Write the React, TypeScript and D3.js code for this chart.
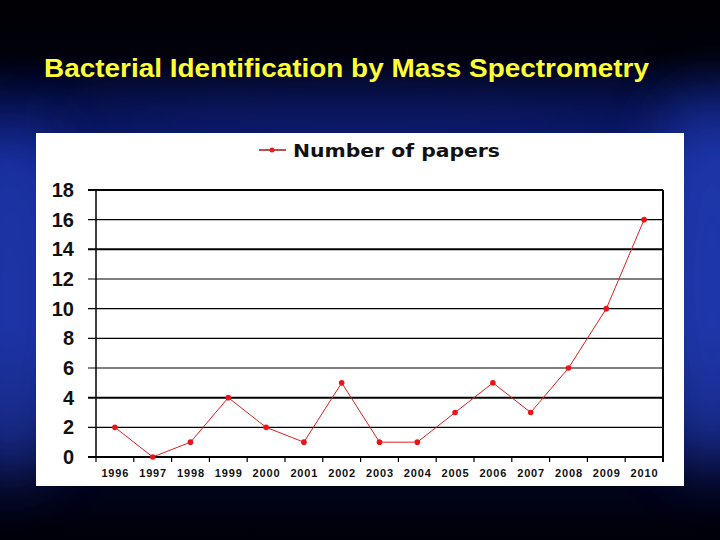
import React from "react";
import * as d3 from "d3";

const years = ["1996","1997","1998","1999","2000","2001","2002","2003","2004","2005","2006","2007","2008","2009","2010"];
const papers = [2, 0, 1, 4, 2, 1, 5, 1, 1, 3, 5, 3, 6, 10, 16];
const yTicks = [0, 2, 4, 6, 8, 10, 12, 14, 16, 18];
const thickTicks = [0, 4, 14, 18];
const title = "Bacterial Identification by Mass Spectrometry";
const seriesName = "Number of papers";

export default function App() {
  const W = 720, H = 540;
  const left = 96, right = 663, top = 190, bottom = 457;
  const x = d3.scaleBand<string>().domain(years).range([left, right]);
  const y = d3.scaleLinear().domain([0, 18]).range([bottom, top]);
  const line = d3.line<number>()
    .x((_, i) => (x(years[i]) as number) + x.bandwidth() / 2)
    .y((d) => y(d));
  const font = "Liberation Sans, Arial, sans-serif";
  return (
    <div style={{ position: "absolute", left: 0, top: 0, width: W, height: H }}>
      <svg width={W} height={H} style={{ display: "block" }}>
        <defs>
          <linearGradient id="bg" x1="0" y1="0" x2="0" y2="1">
            <stop offset="0" stopColor="#000004" />
            <stop offset="0.1" stopColor="#00010a" />
            <stop offset="0.2" stopColor="#050e48" />
            <stop offset="0.3" stopColor="#0b1a72" />
            <stop offset="0.6" stopColor="#0b1a70" />
            <stop offset="0.8" stopColor="#040a3a" />
            <stop offset="0.9" stopColor="#01031a" />
            <stop offset="1" stopColor="#000008" />
          </linearGradient>
          <filter id="blur" x="-50%" y="-50%" width="200%" height="200%">
            <feGaussianBlur stdDeviation="30" />
          </filter>
        </defs>
        <rect x={0} y={0} width={W} height={H} fill="url(#bg)" />
        <ellipse cx={10} cy={300} rx={70} ry={180} fill="#2a48d0" opacity={0.55} filter="url(#blur)" />
        <ellipse cx={712} cy={280} rx={70} ry={190} fill="#2a48d0" opacity={0.6} filter="url(#blur)" />
        <ellipse cx={360} cy={120} rx={320} ry={25} fill="#1a30a0" opacity={0.35} filter="url(#blur)" />
        <text x={44} y={77} fill="#ffff33" fontFamily={font} fontWeight="bold" fontSize={25}
          textLength={605} lengthAdjust="spacingAndGlyphs">{title}</text>
        <rect x={36} y={133} width={648} height={353} fill="#ffffff" />
        {/* legend */}
        <line x1={259} x2={286} y1={150} y2={150} stroke="#a01818" strokeWidth={1.5} />
        <circle cx={272} cy={150} r={2.5} fill="#e02020" />
        <text x={293} y={157} fontFamily="DejaVu Sans, sans-serif" fontWeight="bold" fontSize={18} fill="#111"
          textLength={207} lengthAdjust="spacingAndGlyphs">{seriesName}</text>
        {/* gridlines */}
        {yTicks.map((t) => (
          <g key={t}>
            <line x1={left - 8} x2={right} y1={y(t)} y2={y(t)} stroke="#000"
              strokeWidth={thickTicks.includes(t) ? 2 : 1.2} />
            <text x={74} y={y(t) + 7} textAnchor="end" fontFamily={font} fontWeight="bold"
              fontSize={20} fill="#111">{t}</text>
          </g>
        ))}
        <line x1={left} x2={left} y1={top} y2={bottom} stroke="#000" strokeWidth={1.5} />
        <line x1={right} x2={right} y1={top} y2={bottom + 5} stroke="#000" strokeWidth={2} />
        {/* x ticks */}
        {years.map((yr) => (
          <g key={yr}>
            <line x1={(x(yr) as number)} x2={(x(yr) as number)} y1={bottom} y2={bottom + 5}
              stroke="#000" strokeWidth={1.2} />
            <text x={(x(yr) as number) + x.bandwidth() / 2} y={477} textAnchor="middle"
              fontFamily={font} fontWeight="bold" fontSize={11} fill="#111"
              textLength={27} lengthAdjust="spacing">{yr}</text>
          </g>
        ))}
        <path d={line(papers) || ""} fill="none" stroke="#e02020" strokeWidth={1} />
        {papers.map((v, i) => (
          <circle key={i} cx={(x(years[i]) as number) + x.bandwidth() / 2} cy={y(v)} r={2.8} fill="#e8141a" />
        ))}
      </svg>
    </div>
  );
}
